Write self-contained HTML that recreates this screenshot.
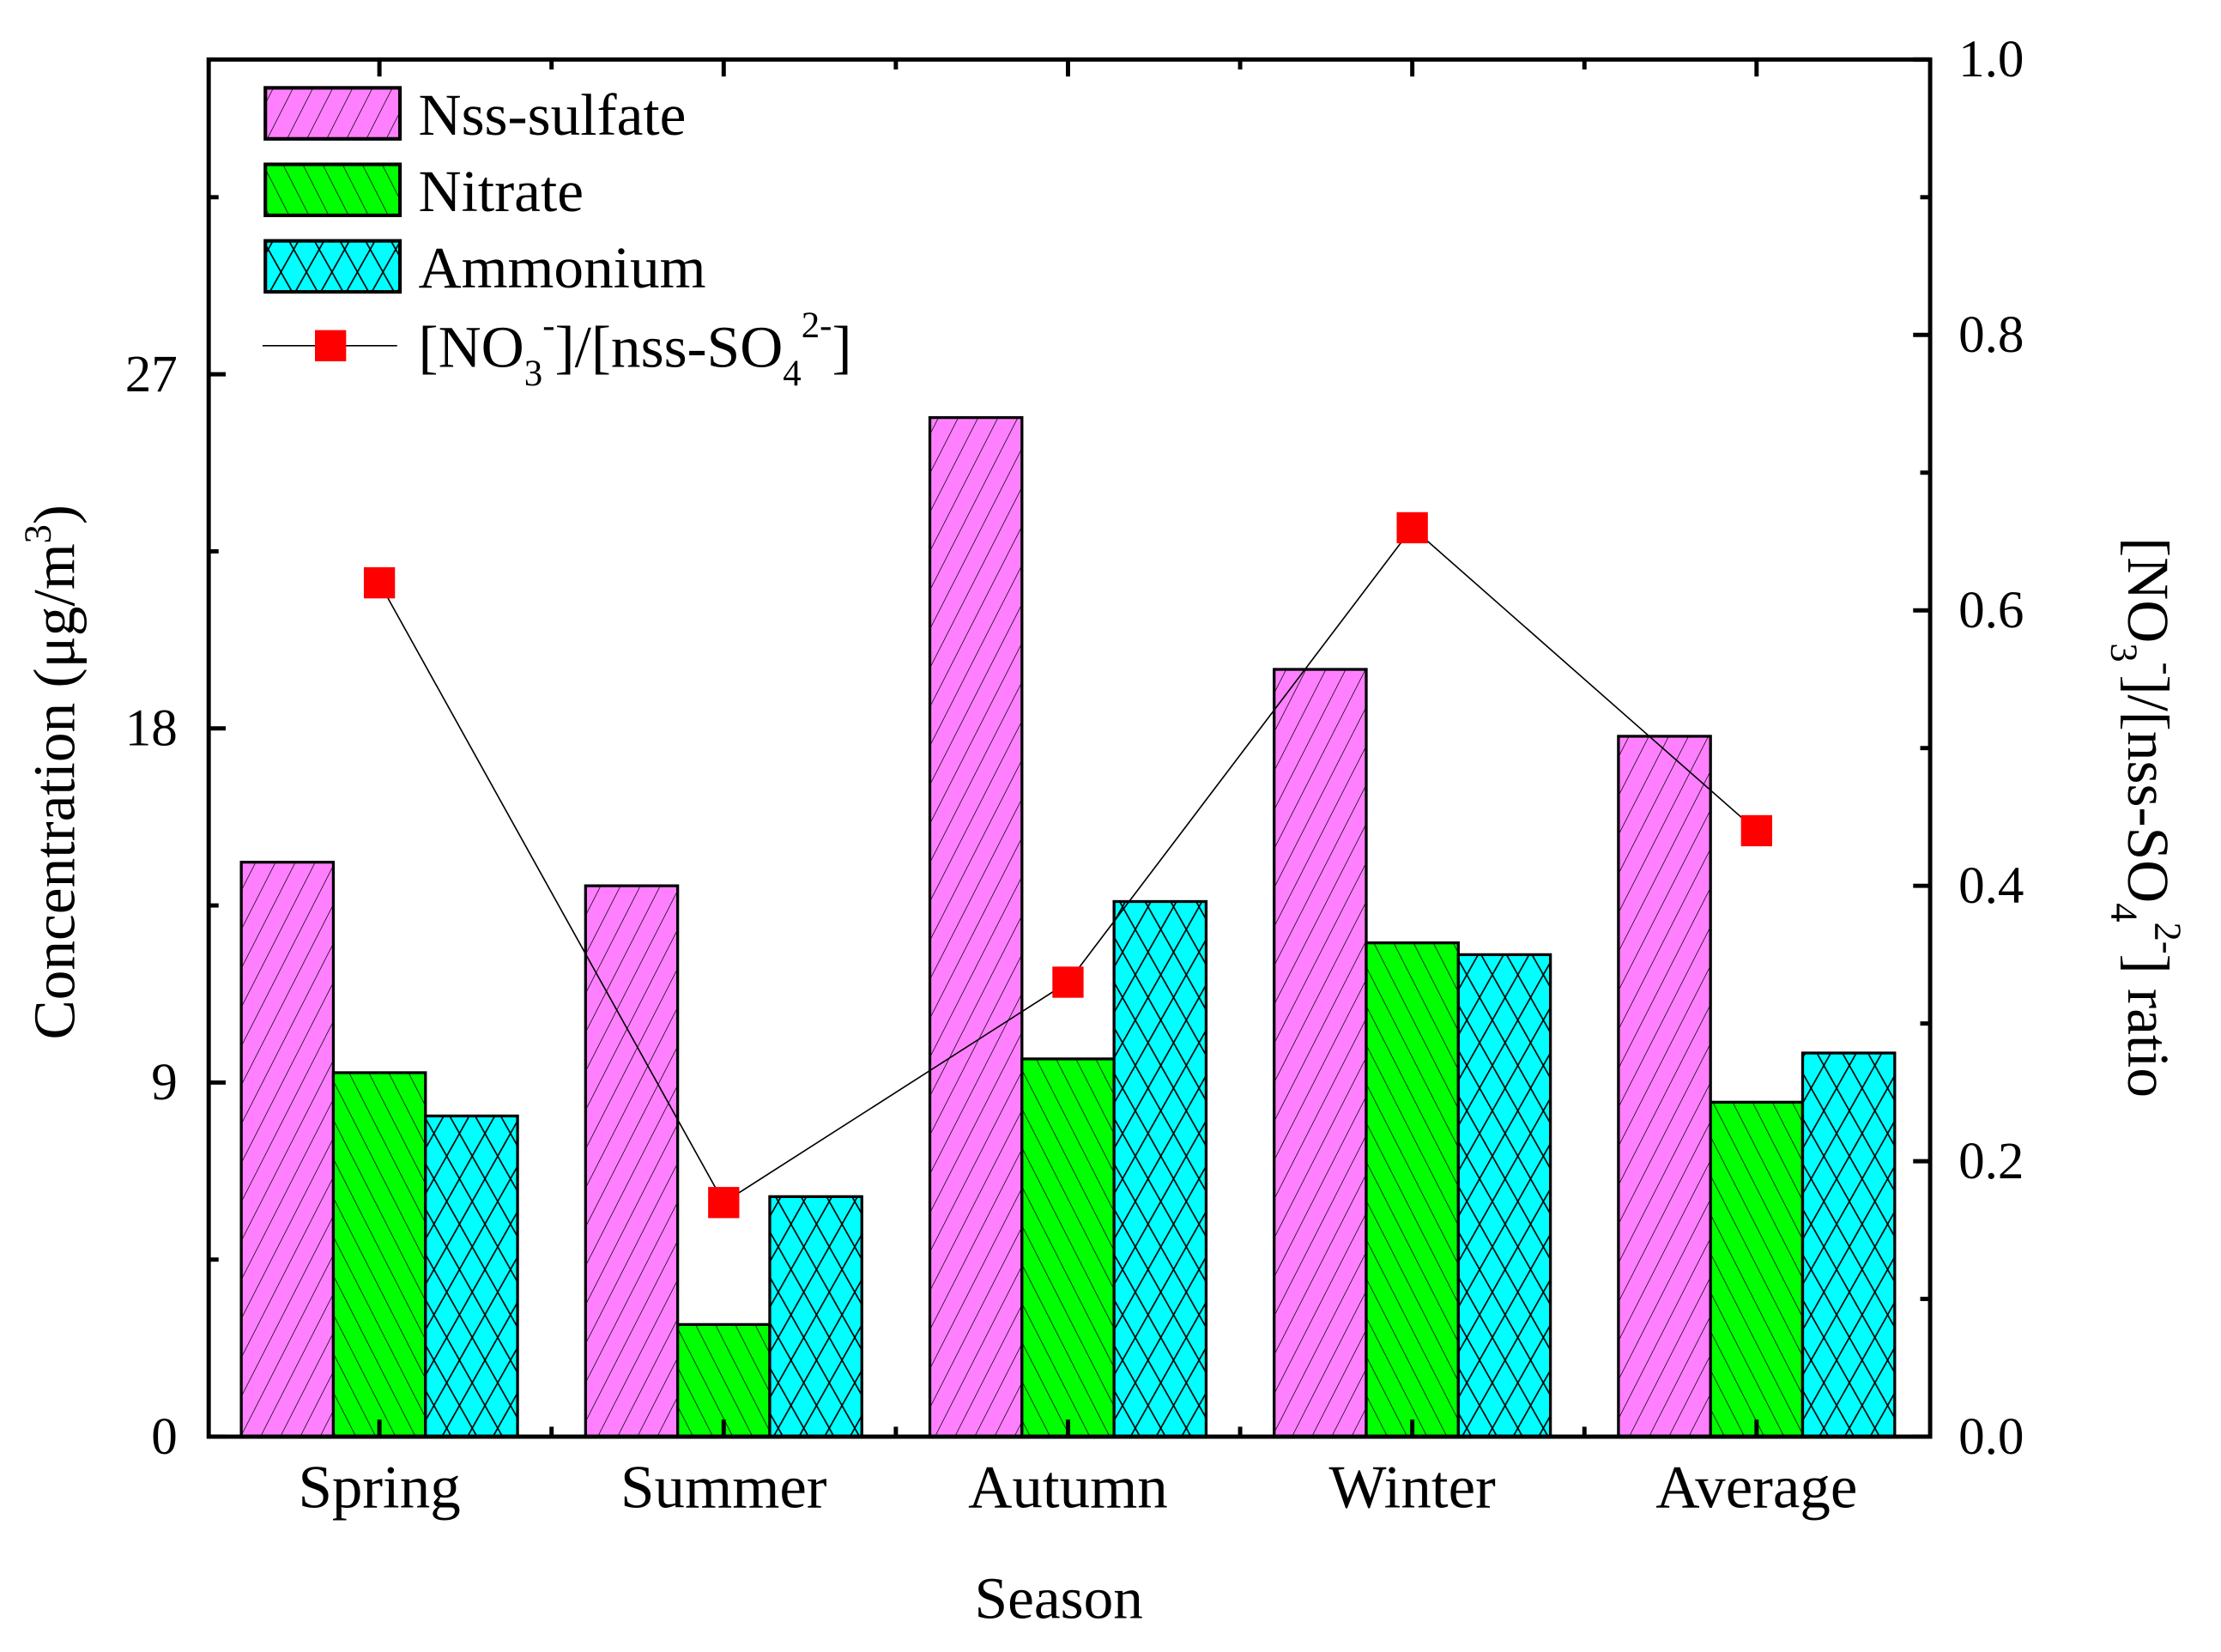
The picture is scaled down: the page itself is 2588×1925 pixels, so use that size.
<!DOCTYPE html>
<html><head><meta charset="utf-8"><style>
html,body{margin:0;padding:0;background:#fff;}
svg, svg text{font-family:"Liberation Serif","DejaVu Serif",serif;}
svg{display:block;}
</style></head><body>
<svg id="chart" width="2588" height="1925" viewBox="0 0 1567 1166" xmlns="http://www.w3.org/2000/svg" font-family="Liberation Serif, serif">
<defs>
<pattern id="pSul" patternUnits="userSpaceOnUse" width="14" height="28" patternTransform="skewX(-27)">
<rect width="14" height="28" fill="#ff80ff"/><line x1="0" y1="0" x2="0" y2="28" stroke="#000" stroke-width="1"/></pattern>
<pattern id="pNit" patternUnits="userSpaceOnUse" width="14" height="28" patternTransform="skewX(27)">
<rect width="14" height="28" fill="#00ff00"/><line x1="0" y1="0" x2="0" y2="28" stroke="#000" stroke-width="1"/></pattern>
<pattern id="pAmm" patternUnits="userSpaceOnUse" width="18" height="32">
<rect width="18" height="32" fill="#00ffff"/><path d="M0,0 L18,32 M18,0 L0,32" stroke="#000" stroke-width="1" fill="none"/></pattern>
</defs>
<g id="bars"></g>
<g id="line"></g>
<g id="axes"></g>
<g id="legend">
<rect x="187" y="62" width="95" height="36" fill="url(#pSul)" stroke="#000" stroke-width="2.5"/>
<text x="295" y="95" font-size="42">Nss-sulfate</text>
<rect x="187" y="116" width="95" height="36" fill="url(#pNit)" stroke="#000" stroke-width="2.5"/>
<text x="295" y="149" font-size="42">Nitrate</text>
<rect x="187" y="170" width="95" height="36" fill="url(#pAmm)" stroke="#000" stroke-width="2.5"/>
<text x="295" y="203" font-size="42">Ammonium</text>
<line x1="185" y1="244" x2="280" y2="244" stroke="#000" stroke-width="1"/>
<rect x="222" y="233" width="22" height="22" fill="#ff0000"/>
<text x="295" y="259" font-size="42">[NO<tspan font-size="26" dy="13">3</tspan><tspan font-size="26" dy="-34">-</tspan><tspan dy="21">]/[nss-SO</tspan><tspan font-size="26" dy="13">4</tspan><tspan font-size="26" dy="-34">2-</tspan><tspan dy="21">]</tspan></text>
</g>
<text transform="translate(52,545) rotate(-90)" text-anchor="middle" font-size="42">Concentration (μg/m<tspan font-size="27" dy="-17">3</tspan><tspan dy="17">)</tspan></text>
<text transform="translate(1502,577) rotate(90)" text-anchor="middle" font-size="42">[NO<tspan font-size="27" dy="12">3</tspan><tspan font-size="27" dy="-31">-</tspan><tspan dy="19">]/[nss-SO</tspan><tspan font-size="27" dy="12">4</tspan><tspan font-size="27" dy="-31">2-</tspan><tspan dy="19">] ratio</tspan></text>
<text x="747" y="1142" text-anchor="middle" font-size="42">Season</text>
</svg>
<script>
const categories = ["Spring","Summer","Autumn","Winter","Average"];
const sulfate = [14.6, 14.0, 25.9, 19.5, 17.8];
const nitrate = [9.25, 2.85, 9.6, 12.55, 8.5];
const ammonium = [8.15, 6.1, 13.6, 12.25, 9.75];
const ratio = [0.62, 0.17, 0.33, 0.66, 0.44];
const yTicks = [0, 9, 18, 27];
const y2Ticks = ["0.0","0.2","0.4","0.6","0.8","1.0"];

const NS = "http://www.w3.org/2000/svg";
const L = 147, R = 1362, T = 42, B = 1014;
const yMax = 35;
const y = v => B - v / yMax * (B - T);
const y2 = v => B - v * (B - T);
const step = (R - L) / categories.length;
const xc = i => L + step * (i + 0.5) - 1;
const bw = 65;
function mk(tag, attrs, parent) {
  const e = document.createElementNS(NS, tag);
  for (const k in attrs) e.setAttribute(k, attrs[k]);
  parent.appendChild(e);
  return e;
}
const gB = document.getElementById("bars");
const series = [[sulfate, "url(#pSul)", "sulfate", -1.5], [nitrate, "url(#pNit)", "nitrate", -0.5], [ammonium, "url(#pAmm)", "ammonium", 0.5]];
categories.forEach((c, i) => {
  series.forEach(s => {
    const x = xc(i) + s[3] * bw;
    const r = mk("rect", {x: x, y: y(s[0][i]), width: bw, height: B - y(s[0][i]), fill: s[1], stroke: "#000", "stroke-width": 2}, gB);
    
    
  });
});
const gL = document.getElementById("line");
const pts = ratio.map((v, i) => xc(i) + "," + y2(v)).join(" ");
const pl = mk("polyline", {points: pts, fill: "none", stroke: "#000", "stroke-width": 1}, gL);


ratio.forEach((v, i) => {
  const m = mk("rect", {x: xc(i) - 11, y: y2(v) - 11, width: 22, height: 22, fill: "#ff0000"}, gL);
  
  
});
const gA = document.getElementById("axes");
const fr = mk("rect", {x: L, y: T, width: R - L, height: B - T, fill: "none", stroke: "#000", "stroke-width": 3}, gA);


for (let v = 0; v <= yMax; v += 4.5) {
  const major = yTicks.includes(v);
  mk("line", {x1: L, x2: L + (major ? 12 : 7), y1: y(v), y2: y(v), stroke: "#000", "stroke-width": 3}, gA);
}
yTicks.forEach(v => {
  const t = mk("text", {x: L - 22, y: y(v) + 12, "text-anchor": "end", "font-size": 37}, gA);
  t.textContent = v;
  
  
});
for (let k = 0; k <= 10; k++) {
  const v = k / 10, major = k % 2 === 0;
  mk("line", {x1: R, x2: R - (major ? 12 : 7), y1: y2(v), y2: y2(v), stroke: "#000", "stroke-width": 3}, gA);
}
y2Ticks.forEach(s => {
  const t = mk("text", {x: R + 20, y: y2(parseFloat(s)) + 12, "font-size": 37}, gA);
  t.textContent = s;
  
  
});
categories.forEach((c, i) => {
  [B, T].forEach(yy => {
    const d = yy === B ? -1 : 1;
    mk("line", {x1: xc(i), x2: xc(i), y1: yy, y2: yy + d * 12, stroke: "#000", "stroke-width": 3}, gA);
    if (i > 0) mk("line", {x1: xc(i) - step / 2, x2: xc(i) - step / 2, y1: yy, y2: yy + d * 7, stroke: "#000", "stroke-width": 3}, gA);
  });
  const t = mk("text", {x: xc(i), y: 1064, "text-anchor": "middle", "font-size": 43}, gA);
  t.textContent = c;
  
  
});
</script>
</body></html>
